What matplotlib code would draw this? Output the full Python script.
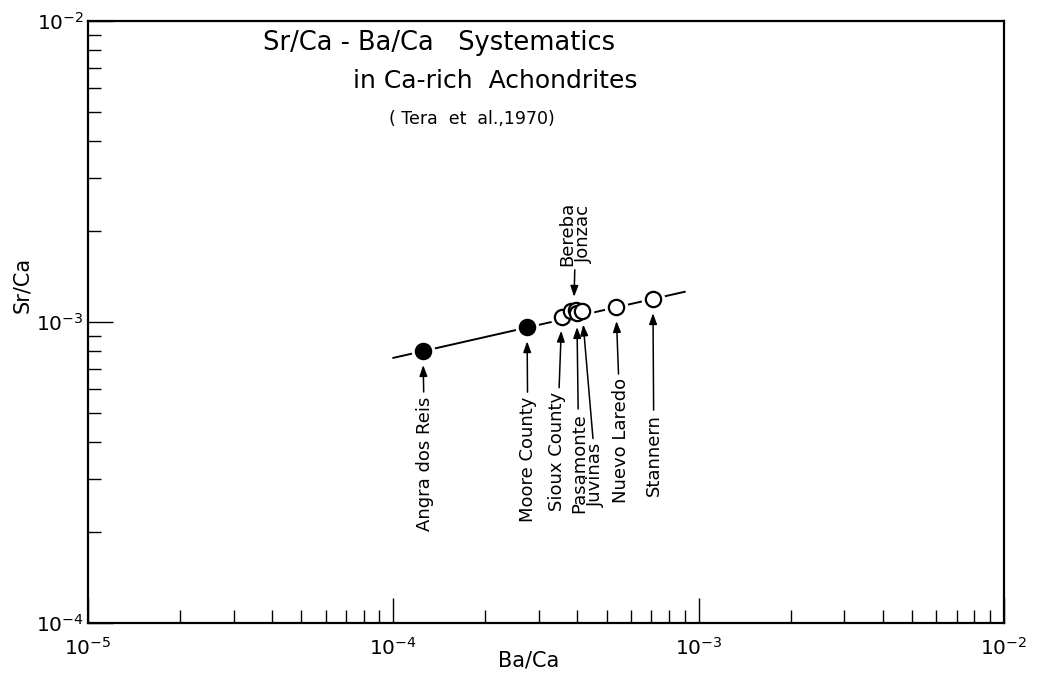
import matplotlib
matplotlib.use('Agg')
import matplotlib.pyplot as plt
from matplotlib.ticker import LogLocator, NullFormatter

# Ba/Ca and Sr/Ca ratios
names = ['Angra dos Reis', 'Moore County', 'Sioux County', 'Bereba', 'Jonzac',
         'Pasamonte', 'Juvinas', 'Nuevo Laredo', 'Stannern']
ba_ca = [1.25e-4, 2.74e-4, 3.56e-4, 3.82e-4, 3.95e-4, 3.99e-4, 4.15e-4, 5.36e-4, 7.08e-4]
sr_ca = [0.80e-3, 0.96e-3, 1.04e-3, 1.09e-3, 1.10e-3, 1.07e-3, 1.09e-3, 1.12e-3, 1.19e-3]
filled = [True, True, False, False, False, False, False, False, False]

# correlation line end points
line_x = [1.0e-4, 9.0e-4]
line_y = [7.6e-4, 1.26e-3]

# label offsets in pixels (text top relative to the point)
single_labels = ['Angra dos Reis', 'Moore County', 'Sioux County', 'Pasamonte',
                 'Juvinas', 'Nuevo Laredo', 'Stannern']
label_offsets = {
    'Angra dos Reis': (2, -45),
    'Moore County': (1, -69),
    'Sioux County': (-5, -75),
    'Pasamonte': (2, -100),
    'Juvinas': (14, -132),
    'Nuevo Laredo': (5, -71),
    'Stannern': (1, -115),
}

plt.rcParams['font.family'] = ['DejaVu Sans']

fig = plt.figure(figsize=(10.37, 6.79), dpi=100)
ax = fig.add_axes([0.0849, 0.0825, 0.8833, 0.8866])
ax.set_xscale('log')
ax.set_yscale('log')
ax.set_xlim(1e-5, 1e-2)
ax.set_ylim(1e-4, 1e-2)

# line with small gaps around the symbols
ax.plot(line_x, line_y, color='black', lw=1.4, zorder=2)
ax.plot(ba_ca, sr_ca, 'o', ms=16, mfc='white', mec='white', zorder=3)
for x, y, f in zip(ba_ca, sr_ca, filled):
    ax.plot(x, y, 'o', ms=11, mfc='black' if f else 'white', mec='black',
            mew=1.6, zorder=4)

arrow = dict(arrowstyle='-|>,head_length=0.5,head_width=0.18', color='black',
             lw=1.1, shrinkA=1, shrinkB=10)
for name in single_labels:
    i = names.index(name)
    ax.annotate(name, xy=(ba_ca[i], sr_ca[i]), xytext=label_offsets[name],
                textcoords='offset pixels', rotation=90, ha='center', va='top',
                fontsize=13, arrowprops=arrow, zorder=5)

# Bereba and Jonzac share one label above the cluster
i = names.index('Bereba')
ax.annotate('Bereba\nJonzac', xy=(ba_ca[i] * 1.02, sr_ca[i]), xytext=(2, 45),
            textcoords='offset pixels', rotation=90, ha='center', va='bottom',
            fontsize=13, linespacing=0.95, arrowprops=arrow, zorder=5)

# axes styling
for s in ax.spines.values():
    s.set_linewidth(1.6)
ax.xaxis.set_major_locator(LogLocator(base=10, numticks=10))
ax.yaxis.set_major_locator(LogLocator(base=10, numticks=10))
ax.xaxis.set_minor_locator(LogLocator(base=10, subs=range(2, 10), numticks=20))
ax.yaxis.set_minor_locator(LogLocator(base=10, subs=range(2, 10), numticks=20))
ax.xaxis.set_minor_formatter(NullFormatter())
ax.yaxis.set_minor_formatter(NullFormatter())
ax.tick_params(which='both', direction='in', top=False, right=False, width=1)
ax.tick_params(which='major', length=18, labelsize=14.5)
ax.tick_params(which='minor', length=9.5)
ax.tick_params(axis='x', which='major', pad=10)
ax.tick_params(axis='y', which='major', pad=3)

fig.text(0.510, 0.012, 'Ba/Ca', fontsize=15, ha='center', va='bottom')
fig.text(0.021, 0.58, 'Sr/Ca', fontsize=15, rotation=90, ha='center', va='center')

fig.text(0.2536, 0.937, 'Sr/Ca - Ba/Ca   Systematics', fontsize=18.5, ha='left', va='center')
fig.text(0.3404, 0.881, 'in Ca-rich  Achondrites', fontsize=18, ha='left', va='center')
fig.text(0.375, 0.825, '( Tera  et  al.,1970)', fontsize=12.5, ha='left', va='center')

fig.savefig('out.png', dpi=100)
